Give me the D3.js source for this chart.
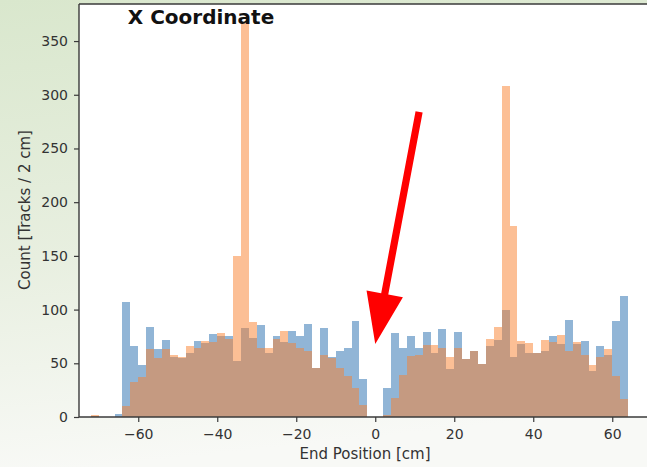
<!DOCTYPE html>
<html>
<head>
<meta charset="utf-8">
<script src="https://cdn.jsdelivr.net/npm/d3@7"></script>
<style>
  html, body { margin: 0; padding: 0; }
  body { width: 647px; height: 467px; overflow: hidden; }
  svg { display: block; font-family: "DejaVu Sans", sans-serif; }
</style>
</head>
<body>
<svg id="chart" width="647" height="467"></svg>
<script>
// Histogram of track end positions along X, 2 cm bins (left edges below)
const binStarts = d3.range(-72, 64, 2);
const binWidth = 2;

// Series 1 (blue) counts per bin
const countsBlue = [
  1, 0, 0, 3, 107, 66, 48, 84, 63, 72, 56, 55, 60, 71, 69, 77, 75, 75,
  52, 83, 74, 86, 60, 75, 70, 80, 75, 87, 46, 83, 56, 61, 64, 89, 35, 0,
  0, 27, 78, 64, 75, 64, 79, 60, 82, 45, 79, 54, 61, 49, 66, 72, 100, 56,
  68, 60, 60, 61, 75, 68, 90, 68, 71, 43, 66, 58, 89, 113
];

// Series 2 (orange) counts per bin
const countsOrange = [
  2, 0, 0, 0, 10, 33, 37, 63, 55, 63, 58, 56, 66, 64, 71, 70, 78, 73,
  150, 367, 88, 64, 64, 73, 80, 69, 64, 61, 46, 58, 55, 46, 38, 27, 11, 0,
  0, 2, 18, 39, 57, 58, 67, 67, 64, 56, 64, 54, 61, 49, 73, 84, 308, 178,
  71, 69, 60, 72, 70, 76, 61, 70, 58, 48, 56, 63, 38, 17
];

const xTicks = [-60, -40, -20, 0, 20, 40, 60];
const yTicks = [0, 50, 100, 150, 200, 250, 300, 350];

const titleText = "X Coordinate";
const xLabel = "End Position [cm]";
const yLabel = "Count [Tracks / 2 cm]";

// Annotation arrow, in data units: [x, count]
const arrowFrom = [11.1, 284];
const arrowTo = [0, 68];

const svg = d3.select("#chart");
const W = 647, H = 467;

// Slide background
const defs = svg.append("defs");
const bg = defs.append("linearGradient").attr("id", "bg")
  .attr("x1", 0).attr("y1", 0).attr("x2", 0.15).attr("y2", 1);
bg.append("stop").attr("offset", "0%").attr("stop-color", "#d9e7cd");
bg.append("stop").attr("offset", "55%").attr("stop-color", "#e8efe0");
bg.append("stop").attr("offset", "100%").attr("stop-color", "#f8f9f6");
svg.append("rect").attr("width", W).attr("height", H).attr("fill", "url(#bg)");

const plot = { left: 79, top: 4, bottom: 417 };

const x = d3.scaleLinear().domain([-75, 69]).range([plot.left, plot.left + 144 * 3.95]);
const y = d3.scaleLinear().domain([0, 384.5]).range([plot.bottom, plot.top]);

// Axes area
svg.append("rect")
  .attr("x", plot.left).attr("y", plot.top)
  .attr("width", W - plot.left).attr("height", plot.bottom - plot.top)
  .attr("fill", "#ffffff");

function drawSeries(counts, color, cls) {
  svg.append("g").attr("class", cls)
    .selectAll("rect")
    .data(binStarts.map((s, i) => ({ s, v: counts[i] })).filter(d => d.v > 0))
    .join("rect")
    .attr("x", d => Math.round(x(d.s)))
    .attr("width", d => Math.round(x(d.s + binWidth)) - Math.round(x(d.s)))
    .attr("y", d => y(d.v))
    .attr("height", d => y(0) - y(d.v))
    .attr("fill", color)
    .attr("fill-opacity", 0.5)
    .attr("shape-rendering", "crispEdges");
}
drawSeries(countsBlue, "#246cae", "series-blue");
drawSeries(countsOrange, "#f97f2c", "series-orange");

// Axes
const axisColor = "#3a3a3a";
const textColor = "#333333";

const yAxis = svg.append("g")
  .attr("transform", `translate(${plot.left},0)`)
  .call(d3.axisLeft(y).tickValues(yTicks).tickSize(5).tickPadding(6).tickSizeOuter(0));
yAxis.select(".domain").remove();

const xAxis = svg.append("g")
  .attr("transform", `translate(0,${plot.bottom})`)
  .call(d3.axisBottom(x).tickValues(xTicks).tickSize(5).tickPadding(7)
    .tickFormat(d => d < 0 ? "\u2212" + Math.abs(d) : String(d)));
xAxis.select(".domain").remove();

[yAxis, xAxis].forEach(g => {
  g.selectAll(".tick line").attr("stroke", axisColor).attr("stroke-width", 1.2);
  g.selectAll(".tick text").attr("fill", textColor)
    .style("font-size", "14px").style("font-family", "DejaVu Sans, sans-serif");
});

// Spines: left, top, bottom
svg.append("line").attr("x1", plot.left).attr("x2", plot.left)
  .attr("y1", plot.top).attr("y2", plot.bottom)
  .attr("stroke", axisColor).attr("stroke-width", 1.4);
svg.append("line").attr("x1", plot.left).attr("x2", W)
  .attr("y1", plot.top).attr("y2", plot.top)
  .attr("stroke", axisColor).attr("stroke-width", 1.6);
svg.append("line").attr("x1", plot.left).attr("x2", W)
  .attr("y1", plot.bottom).attr("y2", plot.bottom)
  .attr("stroke", axisColor).attr("stroke-width", 1.4);

// Axis labels
svg.append("text")
  .attr("x", 365).attr("y", 459)
  .attr("text-anchor", "middle")
  .attr("fill", textColor)
  .style("font-size", "15px")
  .text(xLabel);

svg.append("text")
  .attr("transform", "translate(30,210) rotate(-90)")
  .attr("text-anchor", "middle")
  .attr("fill", textColor)
  .style("font-size", "15px")
  .text(yLabel);

// Title
svg.append("text")
  .attr("x", 201).attr("y", 24)
  .attr("text-anchor", "middle")
  .attr("fill", "#111111")
  .style("font-size", "20px")
  .style("font-weight", "bold")
  .text(titleText);

// Red arrow pointing at the gap around x = 0
const p0 = [x(arrowFrom[0]), y(arrowFrom[1])];
const p1 = [x(arrowTo[0]), y(arrowTo[1])];
const dx = p1[0] - p0[0], dy = p1[1] - p0[1];
const len = Math.hypot(dx, dy);
const ux = dx / len, uy = dy / len;
const headLen = 51, headHalf = 18.5, shaftHalf = 3.6;
const base = [p1[0] - ux * headLen, p1[1] - uy * headLen];
const nx = -uy, ny = ux;
const arrowPts = [
  [p0[0] + nx * shaftHalf, p0[1] + ny * shaftHalf],
  [base[0] + nx * shaftHalf, base[1] + ny * shaftHalf],
  [base[0] + nx * headHalf, base[1] + ny * headHalf],
  p1,
  [base[0] - nx * headHalf, base[1] - ny * headHalf],
  [base[0] - nx * shaftHalf, base[1] - ny * shaftHalf],
  [p0[0] - nx * shaftHalf, p0[1] - ny * shaftHalf]
];
svg.append("path")
  .attr("d", d3.line()(arrowPts) + "Z")
  .attr("fill", "#ff0000");
</script>
</body>
</html>
